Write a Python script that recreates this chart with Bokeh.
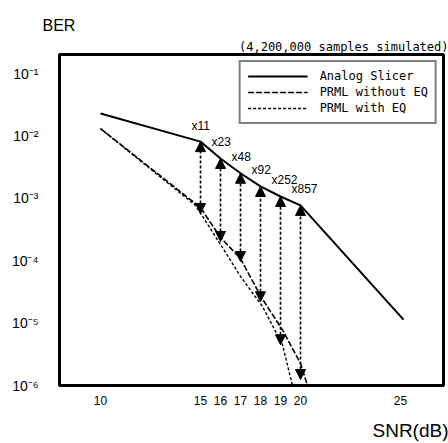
from bokeh.plotting import figure
from bokeh.models import (Range1d, FixedTicker, CustomJSTickFormatter, Arrow, NormalHead,
                          ColumnDataSource, Legend, LegendItem, Title)
from bokeh.core.properties import value
from bokeh.embed import file_html
from bokeh.resources import INLINE

# ---- data ----
analog_snr = [10, 15, 16, 17, 18, 19, 20, 25.15]
analog_ber = [2.29e-2, 8.1e-3, 4.35e-3, 2.52e-3, 1.55e-3, 1.07e-3, 7.7e-4, 1.14e-5]

prml_noeq_snr = [10, 15, 16, 17, 18.05, 19.15, 20, 20.35]
prml_noeq_ber = [1.31e-2, 7.1e-4, 2.36e-4, 1.08e-4, 2.57e-5, 7.3e-6, 2.25e-6, 1.0e-6]

prml_eq_snr = [10, 14.75, 16, 17, 18.1, 19.1, 19.6]
prml_eq_ber = [1.31e-2, 7.7e-4, 1.82e-4, 5.6e-5, 1.85e-5, 4.5e-6, 1.0e-6]

arrow_snr = [15, 16, 17, 18, 19, 20]
arrow_top = [8.1e-3, 4.35e-3, 2.52e-3, 1.55e-3, 1.07e-3, 7.7e-4]
arrow_bottom = [5.7e-4, 2.03e-4, 9.7e-5, 2.2e-5, 4.5e-6, 1.25e-6]
gain_labels = ["x11", "x23", "x48", "x92", "x252", "x857"]

x_ticks = [10, 15, 16, 17, 18, 19, 20, 25]
y_ticks = [1e-1, 1e-2, 1e-3, 1e-4, 1e-5, 1e-6]

title_text = "(4,200,000 samples simulated)"
y_label = "BER"
x_label = "SNR(dB)"
legend_labels = ["Analog Slicer", "PRML without EQ", "PRML with EQ"]

# ---- figure ----
p = figure(width=448, height=443, y_axis_type="log", title=y_label,
           x_range=Range1d(7.95, 27.15), y_range=Range1d(1e-6, 0.2018),
           output_backend="svg", toolbar_location=None,
           min_border_left=59, min_border_right=5, min_border_top=54, min_border_bottom=58)
p.background_fill_color = "white"
p.border_fill_color = "white"
p.grid.visible = False
p.outline_line_color = "black"
p.outline_line_width = 3

p.title.align = "left"
p.title.offset = -17
p.title.standoff = 7
p.title.text_font = "Liberation Sans"
p.title.text_font_size = "16px"
p.title.text_font_style = "normal"
p.title.text_color = "black"

sim_title = Title(text=title_text, align="right", offset=-5, standoff=1,
                  text_font="DejaVu Sans Mono", text_font_size="12px",
                  text_font_style="normal", text_color="black")
p.add_layout(sim_title, "above")

snr_title = Title(text=x_label, align="right", offset=-5, standoff=0, vertical_align="top",
                  text_font="Liberation Sans", text_font_size="19px",
                  text_font_style="normal", text_color="black")
p.add_layout(snr_title, "below")

for ax in (p.xaxis[0], p.yaxis[0]):
    ax.axis_line_color = None
    ax.major_tick_line_color = None
    ax.minor_tick_line_color = None
    ax.major_tick_out = 0
    ax.minor_tick_out = 0
    ax.major_label_text_font = "Liberation Sans"
    ax.major_label_text_color = "black"

p.xaxis.ticker = FixedTicker(ticks=x_ticks)
p.xaxis.major_label_text_font_size = "12px"
p.xaxis.major_label_standoff = 10
# blank spacer between the tick labels and the SNR(dB) caption
p.xaxis.axis_label = " "
p.xaxis.axis_label_text_font_size = "8px"
p.xaxis.axis_label_standoff = 0

p.yaxis.ticker = FixedTicker(ticks=y_ticks)
p.yaxis.major_label_text_font_size = "14px"
p.yaxis.major_label_standoff = 21
p.yaxis.formatter = CustomJSTickFormatter(code="""
const sup = {"-":"\u207b","0":"\u2070","1":"\u00b9","2":"\u00b2","3":"\u00b3","4":"\u2074","5":"\u2075","6":"\u2076","7":"\u2077","8":"\u2078","9":"\u2079"};
const e = String(Math.round(Math.log10(tick)));
let s = "";
for (const c of e) s += sup[c];
return "10" + s;
""")

r_analog = p.line(analog_snr, analog_ber, line_color="black", line_width=2)
r_noeq = p.line(prml_noeq_snr, prml_noeq_ber, line_color="black", line_width=1.6, line_dash="6 2")
r_eq = p.line(prml_eq_snr, prml_eq_ber, line_color="black", line_width=1.4, line_dash="3 2")

arrow_src = ColumnDataSource(dict(xs=arrow_snr, ys=arrow_bottom, xe=arrow_snr, ye=arrow_top))
p.add_layout(Arrow(x_start="xs", y_start="ys", x_end="xe", y_end="ye", source=arrow_src,
                   line_color="black", line_width=1.6, line_dash="3 2",
                   start=NormalHead(size=10, fill_color="black", line_color="black", line_width=1),
                   end=NormalHead(size=10, fill_color="black", line_color="black", line_width=1)))

lab_src = ColumnDataSource(dict(x=arrow_snr, y=arrow_top, t=gain_labels))
p.text(x="x", y="y", text="t", source=lab_src, text_font=value("Liberation Sans"),
       text_font_size="12px", text_color="black", text_align="left", text_baseline="bottom",
       x_offset=-9, y_offset=-9)

legend = Legend(items=[LegendItem(label=legend_labels[0], renderers=[r_analog]),
                       LegendItem(label=legend_labels[1], renderers=[r_noeq]),
                       LegendItem(label=legend_labels[2], renderers=[r_eq])],
                location="top_right")
legend.label_text_font = "DejaVu Sans Mono"
legend.label_text_font_size = "12px"
legend.label_text_color = "black"
legend.glyph_width = 60
legend.glyph_height = 14
legend.label_height = 14
legend.label_standoff = 12
legend.spacing = 2
legend.padding = 7
legend.margin = 6
legend.border_line_color = "black"
legend.border_line_width = 2.5
legend.background_fill_color = "white"
legend.background_fill_alpha = 1
p.add_layout(legend)

open("out.html", "w").write(file_html(p, INLINE))
